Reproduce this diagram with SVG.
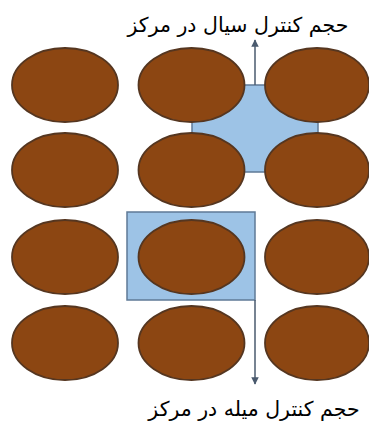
<svg xmlns="http://www.w3.org/2000/svg" width="369" height="424" viewBox="0 0 369 424">
<defs>
<style>
.e{fill:#8c4612;stroke:#553620;stroke-width:1.8}
.cv{fill:#9dc3e6;stroke:#5f7a96;stroke-width:1.5}
.ln{stroke:#4a5a6e;stroke-width:1.5;fill:none}
.t{font-family:"DejaVu Sans","Noto Sans",sans-serif;font-size:20.5px;fill:#000;text-anchor:middle}
</style>
<marker id="ah" viewBox="0 0 10 10" refX="9" refY="5" markerWidth="5" markerHeight="5" orient="auto">
<path d="M0,0 L10,5 L0,10 z" fill="#4a5a6e"/>
</marker>
</defs>
<rect width="369" height="424" fill="#fff"/>
<g id="fluid-cv"><rect class="cv" x="192" y="85" width="126" height="87"/></g>
<g id="rod-cv"><rect class="cv" x="127" y="212" width="128" height="88"/></g>
<g id="connectors">
<line class="ln" x1="255" y1="85" x2="255" y2="40" marker-end="url(#ah)"/>
<line class="ln" x1="255" y1="300" x2="255" y2="384" marker-end="url(#ah)"/>
</g>
<g id="rods">
<ellipse class="e" cx="65" cy="85" rx="53" ry="37"/>
<ellipse class="e" cx="191.5" cy="85" rx="53" ry="37"/>
<ellipse class="e" cx="317" cy="85" rx="52" ry="37"/>
<ellipse class="e" cx="65" cy="170" rx="53" ry="37"/>
<ellipse class="e" cx="191.5" cy="170" rx="53" ry="37"/>
<ellipse class="e" cx="317" cy="170" rx="52" ry="37"/>
<ellipse class="e" cx="65" cy="257" rx="53" ry="37"/>
<ellipse class="e" cx="191.5" cy="257" rx="53" ry="37"/>
<ellipse class="e" cx="317" cy="257" rx="52" ry="37"/>
<ellipse class="e" cx="65" cy="343" rx="53" ry="37"/>
<ellipse class="e" cx="191.5" cy="343" rx="53" ry="37"/>
<ellipse class="e" cx="317" cy="343" rx="52" ry="37"/>
</g>
<g id="label-fluid"><text class="t" x="238" y="32" direction="rtl">حجم کنترل سیال در مرکز</text></g>
<g id="label-rod"><text class="t" x="254" y="416" direction="rtl">حجم کنترل میله در مرکز</text></g>
</svg>
